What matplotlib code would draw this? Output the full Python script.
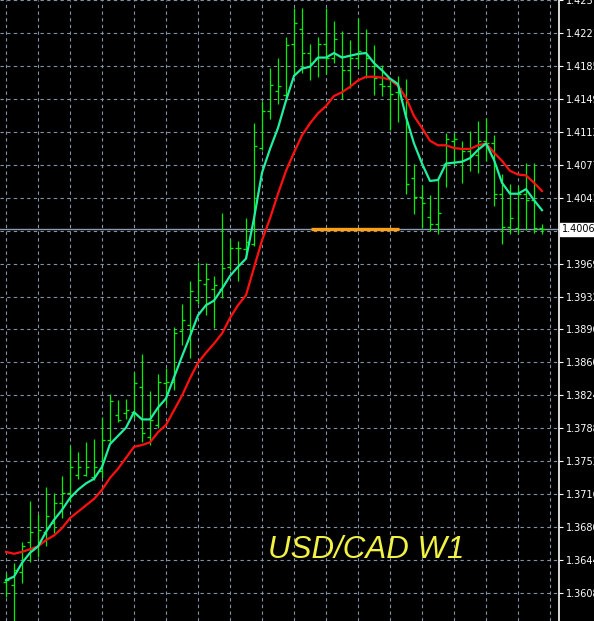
import numpy as np
import matplotlib.pyplot as plt

# USD/CAD weekly bars (open, high, low, close)
opens = [1.3620, 1.3617, 1.3631, 1.3664, 1.3658, 1.3675, 1.3685, 1.3706, 1.3718, 1.3737,
         1.3737, 1.3735, 1.3742, 1.3775, 1.3803, 1.3805, 1.3806, 1.3833, 1.3779, 1.3792,
         1.3838, 1.3839, 1.3895, 1.3901, 1.3929, 1.3946, 1.3941, 1.3941, 1.3965, 1.3986,
         1.3985, 1.3990, 1.4095, 1.4135, 1.4157, 1.4153, 1.4209, 1.4225, 1.4199, 1.4194,
         1.4209, 1.4194, 1.4196, 1.4180, 1.4194, 1.4199, 1.4185, 1.4165, 1.4163, 1.4156,
         1.4152, 1.4062, 1.4041, 1.4019, 1.4012, 1.4078, 1.4103, 1.4081, 1.4092, 1.4087,
         1.4103, 1.4100, 1.4045, 1.4009, 1.4007, 1.4045, 1.4038, 1.4008]
highs = [1.3630, 1.3641, 1.3664, 1.3709, 1.3695, 1.3724, 1.3718, 1.3736, 1.3769, 1.3762,
         1.3773, 1.3777, 1.3801, 1.3826, 1.3819, 1.3820, 1.3850, 1.3870, 1.3829, 1.3848,
         1.3854, 1.3899, 1.3924, 1.3949, 1.3970, 1.3969, 1.3955, 1.4024, 1.3995, 1.3993,
         1.4018, 1.4122, 1.4146, 1.4183, 1.4193, 1.4216, 1.4248, 1.4248, 1.4209, 1.4217,
         1.4248, 1.4234, 1.4223, 1.4213, 1.4237, 1.4225, 1.4208, 1.4186, 1.4172, 1.4174,
         1.4171, 1.4077, 1.4055, 1.4044, 1.4063, 1.4111, 1.4111, 1.4103, 1.4114, 1.4125,
         1.4128, 1.4109, 1.4067, 1.4056, 1.4054, 1.4079, 1.4079, 1.4012]
lows = [1.3604, 1.3573, 1.3619, 1.3642, 1.3647, 1.3660, 1.3674, 1.3690, 1.3708, 1.3733,
        1.3736, 1.3732, 1.3734, 1.3773, 1.3795, 1.3799, 1.3800, 1.3773, 1.3770, 1.3789,
        1.3814, 1.3830, 1.3879, 1.3865, 1.3924, 1.3912, 1.3898, 1.3931, 1.3961, 1.3949,
        1.3975, 1.3988, 1.4093, 1.4127, 1.4143, 1.4147, 1.4174, 1.4177, 1.4169, 1.4173,
        1.4176, 1.4188, 1.4149, 1.4161, 1.4182, 1.4172, 1.4153, 1.4152, 1.4115, 1.4123,
        1.4045, 1.4023, 1.4007, 1.4004, 1.4001, 1.4052, 1.4076, 1.4057, 1.4070, 1.4068,
        1.4081, 1.4032, 1.3990, 1.4001, 1.4001, 1.4005, 1.4002, 1.4001]
closes = [1.3622, 1.3633, 1.3660, 1.3675, 1.3677, 1.3692, 1.3706, 1.3718, 1.3746, 1.3746,
          1.3746, 1.3746, 1.3775, 1.3818, 1.3797, 1.3808, 1.3838, 1.3783, 1.3797, 1.3839,
          1.3839, 1.3893, 1.3907, 1.3938, 1.3951, 1.3952, 1.3945, 1.3964, 1.3986, 1.3986,
          1.3992, 1.4097, 1.4135, 1.4164, 1.4163, 1.4208, 1.4232, 1.4199, 1.4188, 1.4209,
          1.4194, 1.4214, 1.4180, 1.4194, 1.4201, 1.4194, 1.4172, 1.4163, 1.4154, 1.4161,
          1.4056, 1.4041, 1.4035, 1.4012, 1.4024, 1.4105, 1.4105, 1.4092, 1.4087, 1.4103,
          1.4100, 1.4045, 1.4009, 1.4018, 1.4045, 1.4038, 1.4008, 1.4006]

# moving averages as drawn on the chart
ma_fast = [1.3622, 1.3626, 1.3641, 1.3652, 1.3659, 1.3675, 1.3688, 1.3699, 1.3712, 1.3721,
           1.3728, 1.3733, 1.3746, 1.3771, 1.3780, 1.3789, 1.3806, 1.3798, 1.3798, 1.3811,
           1.3821, 1.3844, 1.3867, 1.3889, 1.3912, 1.3923, 1.3928, 1.3941, 1.3955, 1.3965,
           1.3974, 1.4018, 1.4068, 1.4094, 1.4117, 1.4147, 1.4174, 1.4182, 1.4184, 1.4194,
           1.4194, 1.4199, 1.4194, 1.4196, 1.4198, 1.4199, 1.4188, 1.4180, 1.4171, 1.4165,
           1.4129, 1.4100, 1.4078, 1.4059, 1.4060, 1.4078, 1.4079, 1.4080, 1.4084, 1.4093,
           1.4100, 1.4082, 1.4057, 1.4045, 1.4045, 1.4050, 1.4038, 1.4027]
ma_slow = [1.3653, 1.3651, 1.3653, 1.3656, 1.3659, 1.3666, 1.3671, 1.3679, 1.3690, 1.3697,
           1.3704, 1.3711, 1.3721, 1.3734, 1.3744, 1.3756, 1.3768, 1.3770, 1.3773, 1.3784,
           1.3792, 1.3808, 1.3824, 1.3843, 1.3860, 1.3871, 1.3881, 1.3892, 1.3909, 1.3923,
           1.3934, 1.3964, 1.3994, 1.4018, 1.4045, 1.4070, 1.4090, 1.4109, 1.4122, 1.4133,
           1.4141, 1.4152, 1.4156, 1.4162, 1.4169, 1.4173, 1.4173, 1.4172, 1.4170, 1.4163,
           1.4150, 1.4130, 1.4117, 1.4103, 1.4098, 1.4098, 1.4095, 1.4094, 1.4094, 1.4098,
           1.4100, 1.4090, 1.4081, 1.4070, 1.4066, 1.4065, 1.4057, 1.4048]

# right-axis labels; the one at 1.4005 sits under the bid box so it is left blank
price_labels = ["1.3608", "1.3644", "1.3680", "1.3716", "1.3752", "1.3788", "1.3824",
                "1.3860", "1.3896", "1.3932", "1.3969", "", "1.4041", "1.4077",
                "1.4113", "1.4149", "1.4185", "1.4221", "1.4257"]
bid = 1.4006
hline_start, hline_end = 38.1, 49.1   # orange horizontal line (bar index)

grid_col = "#8592a6"
bar_col = "#00f000"

fig = plt.figure(figsize=(5.94, 6.21), dpi=100, facecolor="black")
ax = fig.add_axes([0, 0, 559 / 594, 1])
ax.set_facecolor("black")

n = len(closes)
x = np.arange(n)

# grid
step = 0.0036056
ticks = [1.3608 + i * step for i in range(len(price_labels))]
for t in ticks:
    ax.axhline(t, color=grid_col, lw=0.8, ls=(0, (3, 3)), zorder=1)
for g in range(0, 72, 4):
    ax.axvline(g, color=grid_col, lw=0.8, ls=(0, (3, 3)), zorder=1)

# bid line
ax.axhline(bid, color="#8c9aae", lw=1.0, zorder=2)

# OHLC bars
ax.vlines(x, lows, highs, color=bar_col, lw=0.9, zorder=3)
ax.hlines(opens, x - 0.35, x, color=bar_col, lw=0.9, zorder=3)
ax.hlines(closes, x, x + 0.35, color=bar_col, lw=0.9, zorder=3)

# moving averages
ax.plot(x, ma_slow, color="#ff1010", lw=1.6, zorder=4)
ax.plot(x, ma_fast, color="#1ff0a0", lw=1.6, zorder=5)

ax.plot([hline_start, hline_end], [bid, bid], color="#ffa010", lw=2.4,
        solid_capstyle="butt", zorder=6)

ax.set_xlim(-0.75, 69.125)
ax.set_ylim(1.35774, 1.4256)

ax.yaxis.tick_right()
ax.set_yticks(ticks)
ax.set_yticklabels(price_labels)
ax.tick_params(axis="y", colors="white", labelsize=7, length=3, pad=2)
ax.set_xticks([])
for s in ["top", "left", "bottom"]:
    ax.spines[s].set_visible(False)
ax.spines["right"].set_color("white")
ax.spines["right"].set_linewidth(1.2)

# bid price box
ax.text(1.005, bid, "1.4006", transform=ax.get_yaxis_transform(), fontsize=7,
        color="black", va="center", ha="left", clip_on=False,
        bbox=dict(boxstyle="square,pad=0.15", fc="white", ec="white"), zorder=10)

ax.text(0.479, 0.101, "USD/CAD W1", transform=ax.transAxes, fontsize=22.5,
        family="Liberation Sans", style="italic", color="#f2f244",
        ha="left", va="baseline", zorder=7)

fig.savefig("out.png", dpi=100, facecolor="black")
